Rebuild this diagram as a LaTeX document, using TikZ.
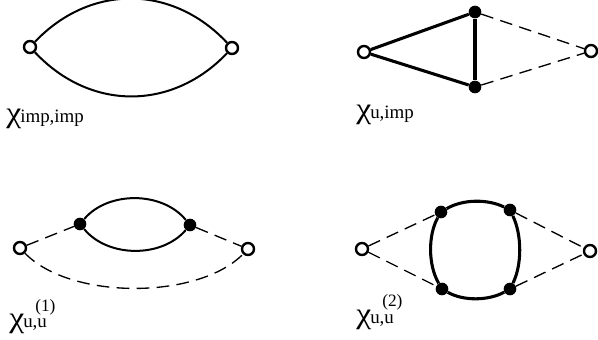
\documentclass[tikz,border=0pt]{standalone}
\usepackage{graphicx}
\usepackage{fontspec}
\setmainfont{Liberation Serif}
\newcommand{\lab}[1]{\makebox[10.5pt][l]{\fontsize{22}{22}\selectfont\scalebox{1.15}[1]{χ}}{\fontsize{14.2}{15}\selectfont #1}}
\begin{document}
\begin{tikzpicture}[x=0.75pt,y=-0.75pt,
  openv/.style={circle,draw=black,fill=white,line width=1.8pt,minimum size=9pt,inner sep=0pt},
  solidv/.style={circle,fill=black,minimum size=9.5pt,inner sep=0pt},
  thinl/.style={line width=1.5pt},
  thickl/.style={line width=2.3pt},
  dashl/.style={line width=1pt,dash pattern=on 9.5pt off 5.5pt},
  lbl/.style={anchor=base west,inner sep=0pt,text=black},
  suplbl/.style={anchor=base west,inner sep=0pt,font=\fontsize{13}{13}\selectfont}]
\useasboundingbox (0,0) rectangle (598,339);
% A
\node[openv] (a1) at (30,47) {};
\node[openv] (a2) at (232,48) {};
\draw[thinl] (a1) .. controls (90,-16) and (172,-16) .. (a2);
\draw[thinl] (a1) .. controls (90,111) and (172,111) .. (a2);
\node[lbl] (la) at (6,122) {\lab{imp,imp}};
% B
\node[openv] (b1) at (364,52) {};
\node[solidv] (b2) at (475,12) {};
\node[solidv] (b3) at (475,87) {};
\node[openv] (b4) at (591,51) {};
\draw[thickl] (b1) -- (b2);
\draw[thickl] (b1) -- (b3);
\draw[thickl] (b2) -- (b3);
\draw[dashl] (b2) -- (b4);
\draw[dashl] (b3) -- (b4);
\node[lbl] (lb) at (356,118) {\lab{u,imp}};
% C
\node[openv] (c1) at (20,248) {};
\node[solidv] (c2) at (80,224) {};
\node[solidv] (c3) at (190,225) {};
\node[openv] (c4) at (248,249) {};
\draw[thinl] (c2) .. controls (108,191) and (162,191) .. (c3);
\draw[thinl] (c2) .. controls (108,258) and (162,258) .. (c3);
\draw[dashl] (c1) -- (c2);
\draw[dashl] (c3) -- (c4);
\draw[dashl] (c1) .. controls (70,300) and (198,300) .. (c4);
\node[lbl] (lc) at (9,327) {\lab{u,u}};
\node[suplbl] (sc) at (35,311) {(1)};
% D
\node[openv] (d1) at (362,249) {};
\node[solidv] (d2) at (441,212) {};
\node[solidv] (d3) at (510,210) {};
\node[solidv] (d4) at (442,289) {};
\node[solidv] (d5) at (510,289) {};
\node[openv] (d6) at (590,251) {};
\draw[thickl] (d2) .. controls (463,199) and (488,199) .. (d3);
\draw[thickl] (d4) .. controls (463,301) and (488,301) .. (d5);
\draw[thickl] (d2) .. controls (428,235) and (428,265) .. (d4);
\draw[thickl] (d3) .. controls (522,235) and (522,265) .. (d5);
\draw[dashl] (d1) -- (d2);
\draw[dashl] (d1) -- (d4);
\draw[dashl] (d3) -- (d6);
\draw[dashl] (d5) -- (d6);
\node[lbl] (ld) at (356,323) {\lab{u,u}};
\node[suplbl] (sd) at (382,306) {(2)};
\end{tikzpicture}
\end{document}
